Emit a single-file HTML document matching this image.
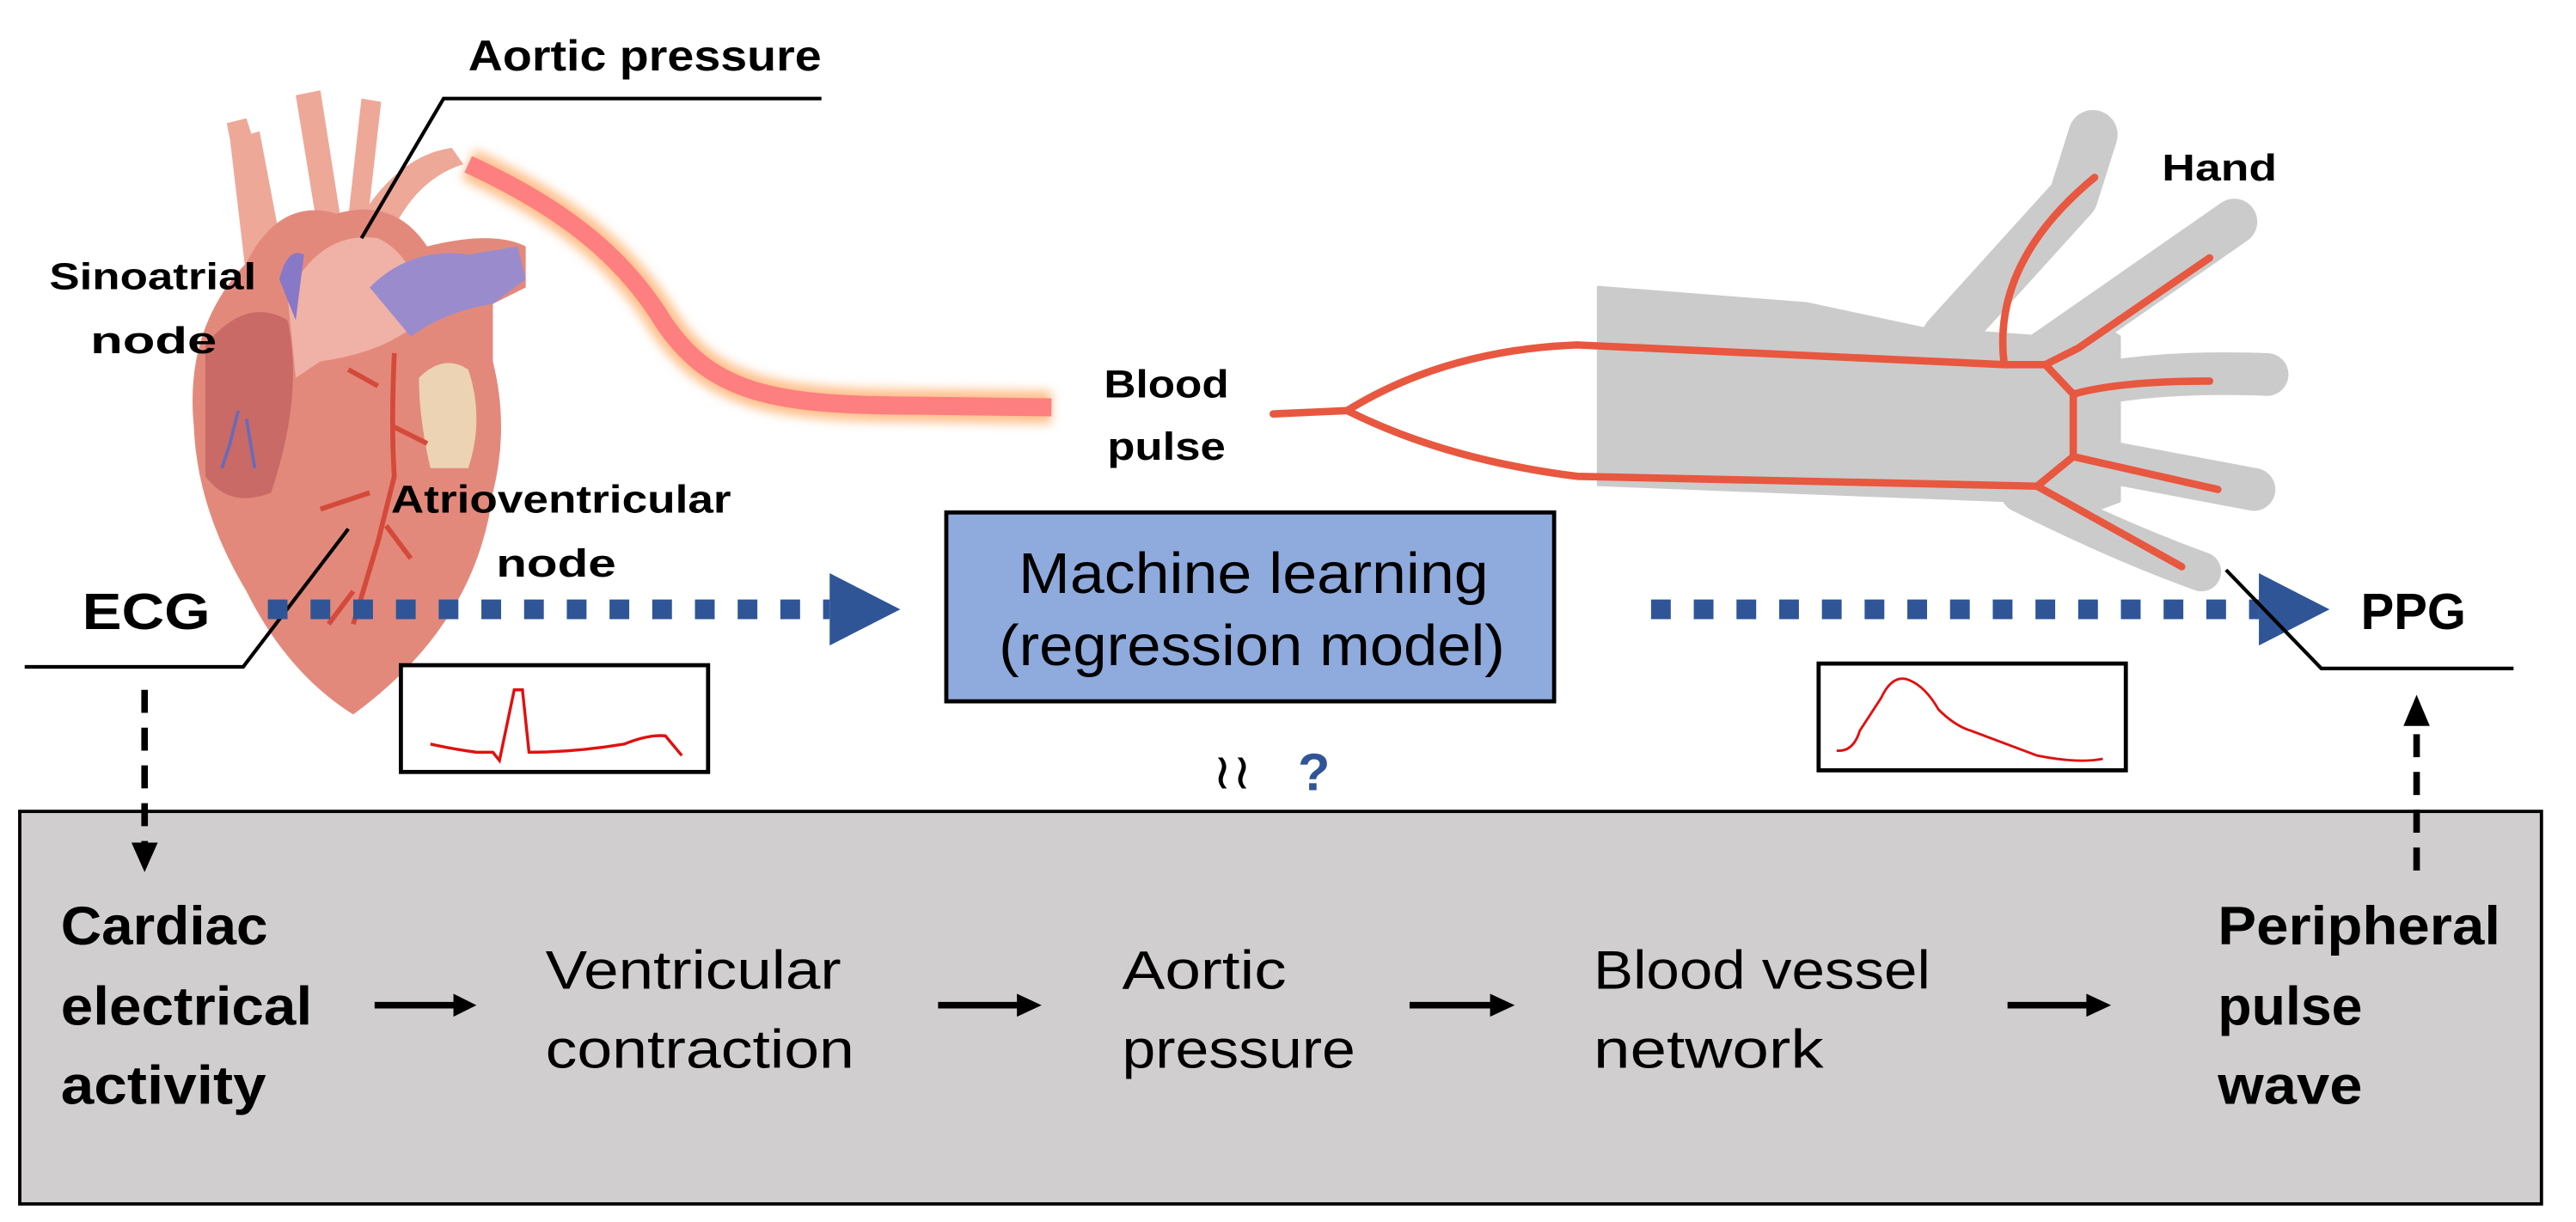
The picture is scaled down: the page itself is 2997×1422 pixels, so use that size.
<!DOCTYPE html>
<html><head><meta charset="utf-8"><style>
html,body{margin:0;padding:0;background:#fff}
svg{display:block}
text{font-family:"Liberation Sans",sans-serif}
</style></head><body>
<svg width="2997" height="1422" viewBox="0 0 1568 744" xmlns="http://www.w3.org/2000/svg">
<defs>
<filter id="glow" x="-20%" y="-20%" width="140%" height="140%"><feGaussianBlur stdDeviation="3"/></filter>
</defs>

<rect x="12" y="494" width="1535" height="239" fill="#d0cece" stroke="#000" stroke-width="2"/>

<!-- Hand -->
<g fill="#cbcbcb" stroke="#cbcbcb" stroke-linecap="round" stroke-linejoin="round">
<polygon points="973,175 1100,185 1170,200 1240,205 1265,190 1290,205 1290,305 1250,320 1230,305 1100,300 973,295" stroke-width="2"/>
<path d="M1185,205 Q1235,150 1262,120 L1274,82" fill="none" stroke-width="30"/>
<path d="M1245,215 L1360,135" fill="none" stroke-width="28"/>
<path d="M1250,240 Q1300,225 1380,228" fill="none" stroke-width="26"/>
<path d="M1250,275 L1372,298" fill="none" stroke-width="26"/>
<path d="M1230,300 Q1290,330 1340,348" fill="none" stroke-width="24"/>
</g>
<g fill="none" stroke="#e8573f" stroke-width="4.5" stroke-linecap="round" stroke-linejoin="round">
<path d="M775,252 L820,250"/>
<path d="M820,250 Q880,213 960,210 L1220,222 L1245,222"/>
<path d="M820,250 Q880,280 960,290 L1240,296"/>
<path d="M1220,222 Q1212,160 1275,108"/>
<path d="M1245,222 L1265,212 L1345,157"/>
<path d="M1245,222 L1262,240 L1262,278 L1240,296"/>
<path d="M1262,240 Q1290,232 1345,232"/>
<path d="M1262,278 L1350,298"/>
<path d="M1240,296 L1328,345"/>
</g>
<text x="1316" y="110" font-size="23" font-weight="bold" textLength="70" lengthAdjust="spacingAndGlyphs">Hand</text>

<!-- Tube -->
<path d="M285,100 C350,130 380,160 400,190 C430,240 470,247 560,247 L640,248" fill="none" stroke="#ffb070" stroke-width="20" filter="url(#glow)" opacity="0.8"/>
<path d="M285,100 C350,130 380,160 400,190 C430,240 470,247 560,247 L640,248" fill="none" stroke="#fd7f80" stroke-width="11"/>

<!-- Heart -->
<g>
<path d="M140,85 L138,75 L150,72 L155,88 Z" fill="#eea898"/>
<path d="M150,170 L140,85 L158,80 L175,170 Z" fill="#eea898"/>
<path d="M195,150 L180,58 L195,55 L210,150 Z" fill="#eea898"/>
<path d="M210,150 L220,60 L232,62 L222,150 Z" fill="#eea898"/>
<path d="M215,140 Q240,95 275,90 L282,100 Q250,110 235,150 Z" fill="#eea898"/>
<path d="M150,160 Q170,120 205,130 Q240,120 260,150 Q300,140 320,150 L320,175 L300,185 L300,220 Q310,260 300,300 Q290,380 215,435 Q175,410 150,360 Q120,310 118,260 Q112,200 150,160 Z" fill="#e3897c"/>
<path d="M125,210 Q150,180 175,195 Q185,240 165,300 Q140,310 125,290 Z" fill="#c96a66"/>
<path d="M175,180 Q195,140 230,145 Q260,160 250,200 Q230,215 195,220 L180,230 Z" fill="#f0b2a6"/>
<path d="M225,175 Q250,150 285,155 L315,150 L320,170 L300,185 Q270,190 250,205 Z" fill="#9a8ccc"/>
<path d="M255,230 Q270,215 285,225 Q295,255 285,285 L262,285 Q255,255 255,230 Z" fill="#ecd3b3"/>
<path d="M170,170 Q175,150 185,155 L180,195 Z" fill="#8878c8"/>
<path d="M240,215 Q238,260 240,290 L230,330 L215,380 M240,260 L260,270 M230,235 L212,225 M225,300 L195,310 M235,320 L250,340 M215,360 L200,380" fill="none" stroke="#d44a3a" stroke-width="3"/>
<path d="M145,250 L140,270 L135,285 M150,255 L155,285" fill="none" stroke="#6a6ab8" stroke-width="2"/>
</g>
<text x="30" y="176" font-size="23" font-weight="bold" textLength="126" lengthAdjust="spacingAndGlyphs">Sinoatrial</text>
<text x="55" y="215" font-size="23" font-weight="bold" textLength="77" lengthAdjust="spacingAndGlyphs">node</text>

<text x="285" y="43" font-size="26" font-weight="bold" textLength="215" lengthAdjust="spacingAndGlyphs">Aortic pressure</text>
<polyline points="500,60 270,60 220,145" fill="none" stroke="#000" stroke-width="2.2"/>

<text x="672" y="242" font-size="24" font-weight="bold" textLength="76" lengthAdjust="spacingAndGlyphs">Blood</text>
<text x="674" y="280" font-size="24" font-weight="bold" textLength="72" lengthAdjust="spacingAndGlyphs">pulse</text>

<text x="238" y="312" font-size="24" font-weight="bold" textLength="207" lengthAdjust="spacingAndGlyphs">Atrioventricular</text>
<text x="302" y="351" font-size="24" font-weight="bold" textLength="73" lengthAdjust="spacingAndGlyphs">node</text>

<text x="50" y="383" font-size="31" font-weight="bold" textLength="78" lengthAdjust="spacingAndGlyphs">ECG</text>
<polyline points="15,406 148,406 212,322" fill="none" stroke="#000" stroke-width="2.2"/>
<line x1="163" y1="371" x2="505" y2="371" stroke="#2f5597" stroke-width="12" stroke-dasharray="12,14"/>
<polygon points="505,349 548,371 505,393" fill="#2f5597"/>

<rect x="244" y="405" width="187" height="65" fill="#fff" stroke="#000" stroke-width="2.5"/>
<path d="M262,453 Q275,456 290,458 L300,458 L304,463 L313,420 L318,420 L322,458 Q350,458 380,453 Q395,447 405,448 L415,460" fill="none" stroke="#e01010" stroke-width="1.8"/>

<rect x="576" y="312" width="370" height="115" fill="#8faadc" stroke="#000" stroke-width="2.5"/>
<text x="620" y="361" font-size="35" textLength="286" lengthAdjust="spacingAndGlyphs">Machine learning</text>
<text x="608" y="405" font-size="35" textLength="308" lengthAdjust="spacingAndGlyphs">(regression model)</text>
<text x="738" y="480" font-size="30" textLength="24" lengthAdjust="spacingAndGlyphs">≀≀</text>
<text x="790" y="481" font-size="32" font-weight="bold" fill="#2f5597">?</text>

<line x1="1005" y1="371" x2="1375" y2="371" stroke="#2f5597" stroke-width="12" stroke-dasharray="12,14"/>
<polygon points="1375,349 1418,371 1375,393" fill="#2f5597"/>
<polyline points="1355,347 1413,407 1530,407" fill="none" stroke="#000" stroke-width="2.2"/>
<text x="1437" y="383" font-size="31" font-weight="bold" textLength="64" lengthAdjust="spacingAndGlyphs">PPG</text>

<rect x="1107" y="404" width="187" height="65" fill="#fff" stroke="#000" stroke-width="2.5"/>
<path d="M1118,457 Q1128,458 1132,445 L1145,425 Q1152,410 1162,414 Q1172,418 1180,432 Q1190,442 1200,445 L1240,460 Q1265,465 1280,462" fill="none" stroke="#e01010" stroke-width="1.5"/>

<line x1="88" y1="420" x2="88" y2="515" stroke="#000" stroke-width="4" stroke-dasharray="14,9"/>
<polygon points="80,513 96,513 88,531" fill="#000"/>
<line x1="1471" y1="530" x2="1471" y2="440" stroke="#000" stroke-width="4" stroke-dasharray="14,9"/>
<polygon points="1463,442 1479,442 1471,423" fill="#000"/>

<g font-size="33">
<text x="37" y="575" font-weight="bold" textLength="126" lengthAdjust="spacingAndGlyphs">Cardiac</text>
<text x="37" y="624" font-weight="bold" textLength="153" lengthAdjust="spacingAndGlyphs">electrical</text>
<text x="37" y="672" font-weight="bold" textLength="125" lengthAdjust="spacingAndGlyphs">activity</text>
<text x="332" y="602" textLength="180" lengthAdjust="spacingAndGlyphs">Ventricular</text>
<text x="332" y="650" textLength="188" lengthAdjust="spacingAndGlyphs">contraction</text>
<text x="683" y="602" textLength="100" lengthAdjust="spacingAndGlyphs">Aortic</text>
<text x="683" y="650" textLength="142" lengthAdjust="spacingAndGlyphs">pressure</text>
<text x="970" y="602" textLength="205" lengthAdjust="spacingAndGlyphs">Blood vessel</text>
<text x="970" y="650" textLength="140" lengthAdjust="spacingAndGlyphs">network</text>
<text x="1350" y="575" font-weight="bold" textLength="172" lengthAdjust="spacingAndGlyphs">Peripheral</text>
<text x="1350" y="624" font-weight="bold" textLength="88" lengthAdjust="spacingAndGlyphs">pulse</text>
<text x="1350" y="672" font-weight="bold" textLength="88" lengthAdjust="spacingAndGlyphs">wave</text>
</g>
<g stroke="#000" stroke-width="4">
<line x1="228" y1="612" x2="278" y2="612"/><line x1="571" y1="612" x2="621" y2="612"/>
<line x1="858" y1="612" x2="909" y2="612"/><line x1="1222" y1="612" x2="1272" y2="612"/>
</g>
<g fill="#000">
<polygon points="276,605 290,612 276,619"/><polygon points="619,605 634,612 619,619"/>
<polygon points="907,605 922,612 907,619"/><polygon points="1270,605 1285,612 1270,619"/>
</g>
</svg>
</body></html>
